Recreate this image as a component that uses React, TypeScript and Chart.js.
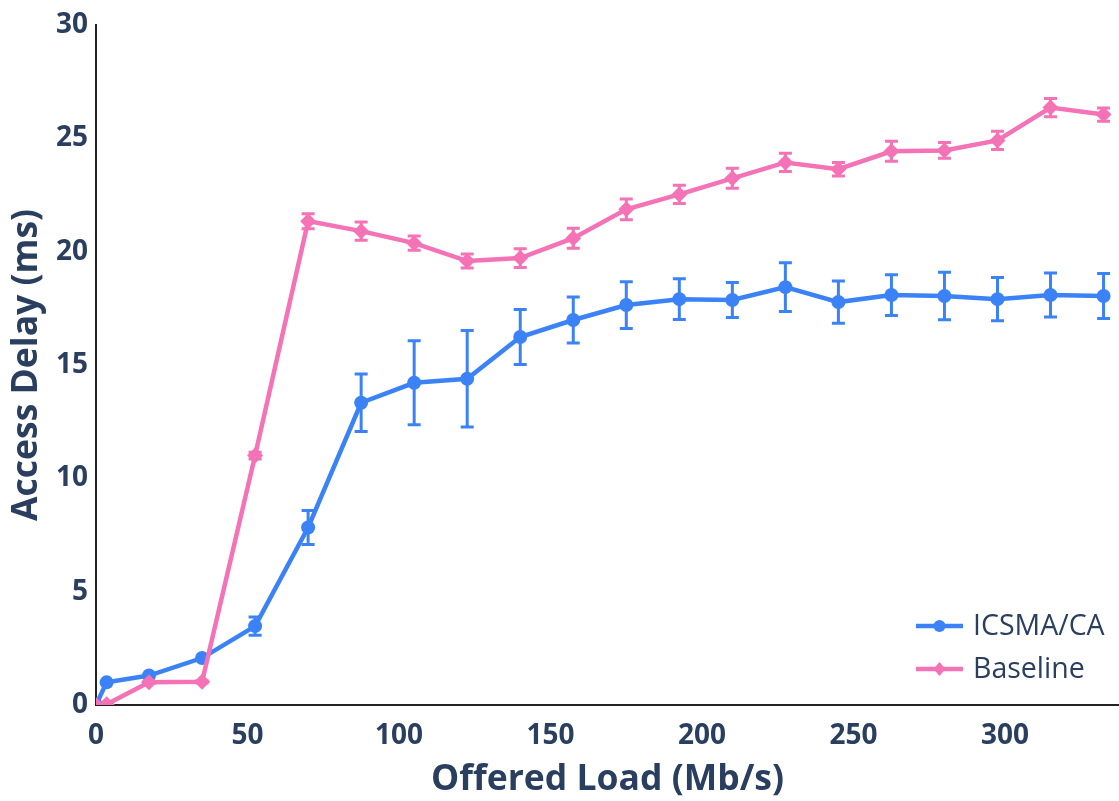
import React, { useEffect, useRef } from "react";
import { Chart, registerables } from "chart.js";

Chart.register(...registerables);

// ---- Data ----
const offeredLoad = [0, 3.5, 17.5, 35, 52.5, 70, 87.5, 105, 122.5, 140, 157.5, 175, 192.5, 210, 227.5, 245, 262.5, 280, 297.5, 315, 332.5];

const icsmaDelay = [0, 1.0, 1.3, 2.07, 3.48, 7.83, 13.33, 14.21, 14.39, 16.23, 16.98, 17.64, 17.9, 17.86, 18.43, 17.77, 18.08, 18.04, 17.9, 18.08, 18.04];
const icsmaError = [0, 0, 0, 0, 0.4, 0.75, 1.27, 1.85, 2.13, 1.21, 1.01, 1.03, 0.9, 0.77, 1.07, 0.93, 0.9, 1.05, 0.95, 0.97, 0.99];

const baselineDelay = [0, 0.03, 1.0, 1.02, 11.0, 21.34, 20.9, 20.37, 19.58, 19.71, 20.59, 21.86, 22.52, 23.23, 23.93, 23.63, 24.42, 24.46, 24.9, 26.35, 26.04];
const baselineError = [0, 0, 0.05, 0.05, 0.15, 0.33, 0.4, 0.31, 0.31, 0.41, 0.44, 0.46, 0.4, 0.44, 0.4, 0.3, 0.44, 0.35, 0.4, 0.4, 0.29];

const seriesNames = ["ICSMA/CA", "Baseline"];
const xTitle = "Offered Load (Mb/s)";
const yTitle = "Access Delay (ms)";

const BLUE = "#3b82f6";
const PINK = "#f472b6";
const TEXT = "#2a3f5f";
const FONT = "'Open Sans', 'Noto Sans', sans-serif";

const errorBarPlugin = {
  id: "errorBars",
  afterDatasetDraw(chart: any, args: any) {
    const ds = chart.data.datasets[args.index];
    const errs: number[] = ds.errors;
    if (!errs) return;
    const ctx = chart.ctx;
    const yScale = chart.scales.y;
    const xScale = chart.scales.x;
    ctx.save();
    ctx.strokeStyle = ds.borderColor;
    ctx.lineWidth = 3;
    ds.data.forEach((p: any, i: number) => {
      const e = errs[i];
      if (!e) return;
      const px = xScale.getPixelForValue(p.x);
      const top = yScale.getPixelForValue(p.y + e);
      const bot = yScale.getPixelForValue(p.y - e);
      const hw = 6.5;
      ctx.beginPath();
      ctx.moveTo(px, top);
      ctx.lineTo(px, bot);
      ctx.moveTo(px - hw, top);
      ctx.lineTo(px + hw, top);
      ctx.moveTo(px - hw, bot);
      ctx.lineTo(px + hw, bot);
      ctx.stroke();
    });
    ctx.restore();
  },
};

const legendPlugin = {
  id: "customLegend",
  afterDraw(chart: any) {
    const ctx = chart.ctx;
    const area = chart.chartArea;
    const x0 = area.right - 203;
    const rows = [
      { y: area.bottom - 79, color: BLUE, style: "circle", label: seriesNames[0] },
      { y: area.bottom - 36, color: PINK, style: "diamond", label: seriesNames[1] },
    ];
    ctx.save();
    rows.forEach((r) => {
      ctx.strokeStyle = r.color;
      ctx.fillStyle = r.color;
      ctx.lineWidth = 4.5;
      ctx.beginPath();
      ctx.moveTo(x0, r.y);
      ctx.lineTo(x0 + 47, r.y);
      ctx.stroke();
      const cx = x0 + 23.5;
      ctx.beginPath();
      if (r.style === "circle") {
        ctx.arc(cx, r.y, 6, 0, Math.PI * 2);
      } else {
        ctx.moveTo(cx, r.y - 7);
        ctx.lineTo(cx + 6, r.y);
        ctx.lineTo(cx, r.y + 7);
        ctx.lineTo(cx - 6, r.y);
        ctx.closePath();
      }
      ctx.fill();
      ctx.fillStyle = TEXT;
      ctx.font = `400 28.5px ${FONT}`;
      ctx.textBaseline = "middle";
      ctx.textAlign = "left";
      ctx.fillText(r.label, x0 + 57, r.y + 1);
    });
    ctx.restore();
  },
};

export default function App() {
  const ref = useRef<HTMLCanvasElement | null>(null);

  useEffect(() => {
    if (!ref.current) return;
    const chart = new Chart(ref.current, {
      type: "line",
      data: {
        datasets: [
          {
            label: seriesNames[0],
            data: offeredLoad.map((x, i) => ({ x, y: icsmaDelay[i] })),
            borderColor: BLUE,
            backgroundColor: BLUE,
            borderWidth: 4.5,
            pointStyle: "circle",
            pointRadius: 7,
            pointBorderWidth: 0,
            pointHoverRadius: 7,
            order: 1,
            clip: { left: 0, bottom: 0, top: false, right: false },
            errors: icsmaError,
          } as any,
          {
            label: seriesNames[1],
            data: offeredLoad.map((x, i) => ({ x, y: baselineDelay[i] })),
            borderColor: PINK,
            backgroundColor: PINK,
            borderWidth: 4.5,
            pointStyle: "rectRot",
            pointRadius: 8,
            pointBorderWidth: 0,
            pointHoverRadius: 8,
            order: 0,
            clip: { left: 0, bottom: 0, top: false, right: false },
            errors: baselineError,
          } as any,
        ],
      },
      options: {
        animation: false,
        responsive: false,
        maintainAspectRatio: false,
        devicePixelRatio: 1,
        layout: { autoPadding: false, padding: { top: 23, left: 0, right: 0, bottom: 0 } },
        plugins: {
          legend: { display: false },
          tooltip: { enabled: false },
        },
        scales: {
          x: {
            type: "linear",
            min: 0,
            max: 337.6,
            grid: { display: false, drawTicks: false },
            border: { display: true, color: "#222", width: 2 },
            ticks: {
              stepSize: 50,
              includeBounds: false,
              color: TEXT,
              padding: 14,
              font: { family: FONT, size: 28, weight: "bold" },
              maxRotation: 0,
              autoSkip: false,
            },
            afterBuildTicks: (scale: any) => {
              scale.ticks = scale.ticks.filter(
                (t: any) => Math.abs(t.value / 50 - Math.round(t.value / 50)) < 1e-6
              );
            },
            afterFit: (scale: any) => {
              scale.height = 96;
            },
            title: {
              display: true,
              text: xTitle,
              color: TEXT,
              font: { family: FONT, size: 35.5, weight: "bold" },
              padding: { top: 0, bottom: 0 },
            },
          },
          y: {
            type: "linear",
            min: 0,
            max: 30,
            grid: { display: false, drawTicks: false },
            border: { display: true, color: "#222", width: 2 },
            ticks: {
              stepSize: 5,
              color: TEXT,
              padding: 8,
              font: { family: FONT, size: 28, weight: "bold" },
            },
            afterFit: (scale: any) => {
              scale.width = 96;
            },
            title: {
              display: true,
              text: yTitle,
              color: TEXT,
              font: { family: FONT, size: 35.5, weight: "bold" },
              padding: { top: 6, bottom: 0 },
            },
          },
        },
      },
      plugins: [errorBarPlugin, legendPlugin],
    });
    return () => chart.destroy();
  }, []);

  return (
    <div style={{ position: "absolute", left: 0, top: 0, width: 1119, height: 801 }}>
      <canvas ref={ref} width={1119} height={801} style={{ display: "block" }} />
    </div>
  );
}
